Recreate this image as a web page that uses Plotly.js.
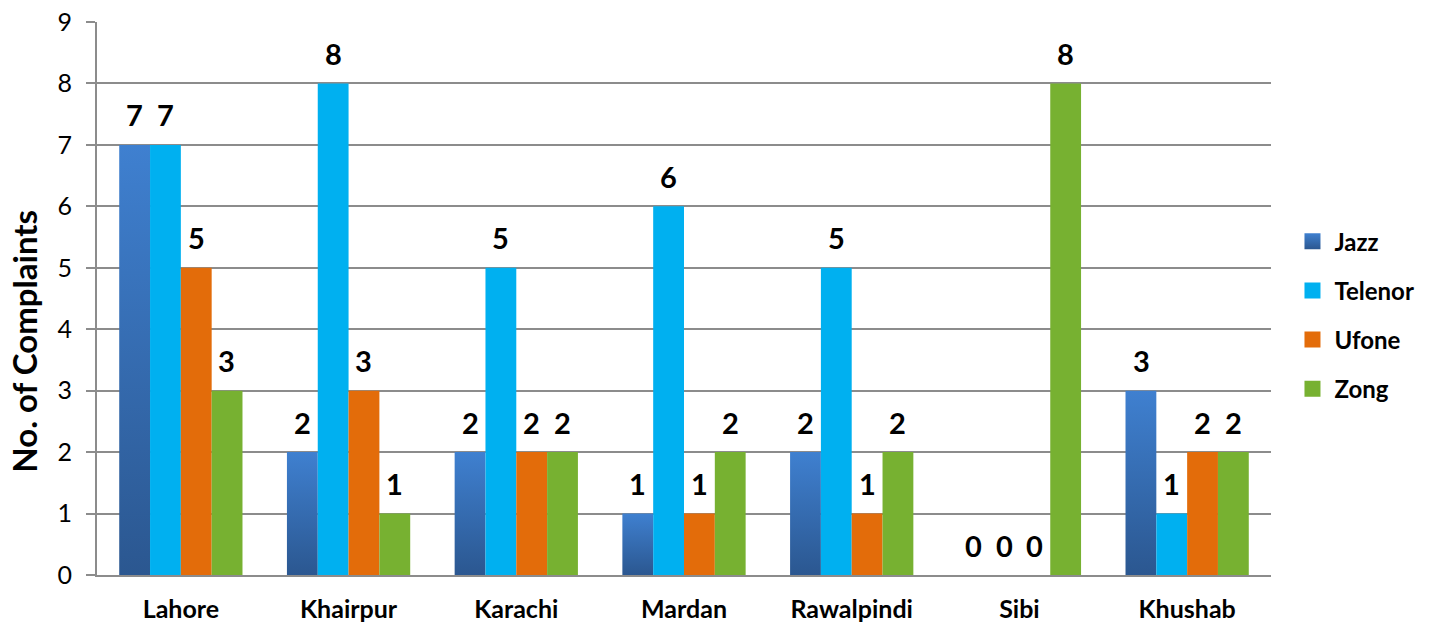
<!DOCTYPE html>
<html>
<head>
<meta charset="utf-8">
<script src="https://cdn.plot.ly/plotly-3.0.1.min.js"></script>
<style>html,body{margin:0;padding:0;background:#fff;}#chart{width:1437px;height:622px;}</style>
</head>
<body>
<div id="chart"></div>
<script>
const cities = ["Lahore", "Khairpur", "Karachi", "Mardan", "Rawalpindi", "Sibi", "Khushab"];
const jazz    = [7, 2, 2, 1, 2, 0, 3];
const telenor = [7, 8, 5, 6, 5, 0, 1];
const ufone   = [5, 3, 2, 1, 1, 0, 2];
const zong    = [3, 1, 2, 2, 2, 8, 2];
const seriesNames = ["Jazz", "Telenor", "Ufone", "Zong"];
const yTicks = [0, 1, 2, 3, 4, 5, 6, 7, 8, 9];
const yTitle = "No. of Complaints";

const colors = ["#3769ad", "#00b0f0", "#e36c0a", "#77b131"];
const allSeries = [jazz, telenor, ufone, zong];
const FONT = "Lato, 'Open Sans', sans-serif";

const traces = allSeries.map((vals, i) => ({
  type: "bar",
  name: seriesNames[i],
  legendgroup: "g" + i,
  x: cities,
  y: vals,
  marker: {color: colors[i], line: {width: 0}},
  hoverinfo: "x+y+name"
}));

// data labels as annotations aligned with grouped bars
const barPx = 30.7;
const offsets = [-1.5, -0.5, 0.5, 1.5];
const annotations = [];
allSeries.forEach((vals, i) => {
  vals.forEach((v, j) => {
    annotations.push({
      x: cities[j], y: v, xref: "x", yref: "y",
      text: "<b>" + v + "</b>", showarrow: false,
      xshift: offsets[i] * barPx, yshift: 30, yanchor: "middle",
      font: {family: FONT, size: 29, color: "#000"}
    });
  });
});
// y-axis title (placed as in the reference, slightly below the plot centre)
annotations.push({
  xref: "paper", yref: "paper", x: -0.0625, y: 0.423,
  xanchor: "center", yanchor: "middle", textangle: -90, showarrow: false,
  text: "<b>" + yTitle + "</b>",
  font: {family: FONT, size: 33, color: "#000"}
});

const layout = {
  width: 1437, height: 622,
  margin: {l: 97, r: 166, t: 22, b: 47},
  paper_bgcolor: "#fff", plot_bgcolor: "#fff",
  barmode: "group",
  bargap: 0.265,
  bargroupgap: 0,
  showlegend: true,
  legend: {
    x: 1.02, y: 0.47, xanchor: "left", yanchor: "middle",
    font: {family: FONT, size: 24, color: "#000", weight: "bold"},
    tracegroupgap: 15, itemwidth: 30,
    traceorder: "grouped"
  },
  xaxis: {
    type: "category",
    showgrid: false,
    showline: true, linecolor: "#8c8c8c", linewidth: 2,
    ticks: "outside", ticklen: 11, tickcolor: "rgba(0,0,0,0)",
    tickfont: {family: FONT, size: 25, color: "#000", weight: "bold"},
    fixedrange: true
  },
  yaxis: {
    range: [0, 9],
    tickvals: yTicks,
    ticktext: yTicks.map(String),
    showgrid: true, gridcolor: "#8c8c8c", gridwidth: 2,
    showline: true, linecolor: "#8c8c8c", linewidth: 2,
    zeroline: false,
    ticks: "outside", ticklen: 9, tickcolor: "#8c8c8c", tickwidth: 2,
    ticklabelstandoff: 9,
    tickfont: {family: FONT, size: 25, color: "#000"},
    fixedrange: true
  },
  annotations: annotations
};

Plotly.newPlot("chart", traces, layout, {displayModeBar: false, staticPlot: true}).then(gd => {
  const svgNS = "http://www.w3.org/2000/svg";
  const svg = gd.querySelector("svg.main-svg");
  let defs = svg.querySelector("defs");
  if (!defs) { defs = document.createElementNS(svgNS, "defs"); svg.insertBefore(defs, svg.firstChild); }
  const grad = document.createElementNS(svgNS, "linearGradient");
  grad.setAttribute("id", "jazzGrad");
  grad.setAttribute("x1", "0"); grad.setAttribute("y1", "0");
  grad.setAttribute("x2", "0"); grad.setAttribute("y2", "1");
  [["0%", "#3f80d0"], ["100%", "#2b5790"]].forEach(([o, c]) => {
    const s = document.createElementNS(svgNS, "stop");
    s.setAttribute("offset", o); s.setAttribute("stop-color", c);
    grad.appendChild(s);
  });
  defs.appendChild(grad);
  const jazzTrace = gd.querySelectorAll(".barlayer .trace")[0];
  if (jazzTrace) jazzTrace.querySelectorAll("path").forEach(p => p.style.fill = "url(#jazzGrad)");
  const legTraces = gd.querySelectorAll(".legend .traces");
  legTraces.forEach((t, i) => {
    t.querySelectorAll(".legendpoints path").forEach(p => {
      p.setAttribute("d", "M10,-8H26V8H10Z");
      p.removeAttribute("transform");
      if (i === 0) p.style.fill = "url(#jazzGrad)";
    });
  });
});
</script>
</body>
</html>
